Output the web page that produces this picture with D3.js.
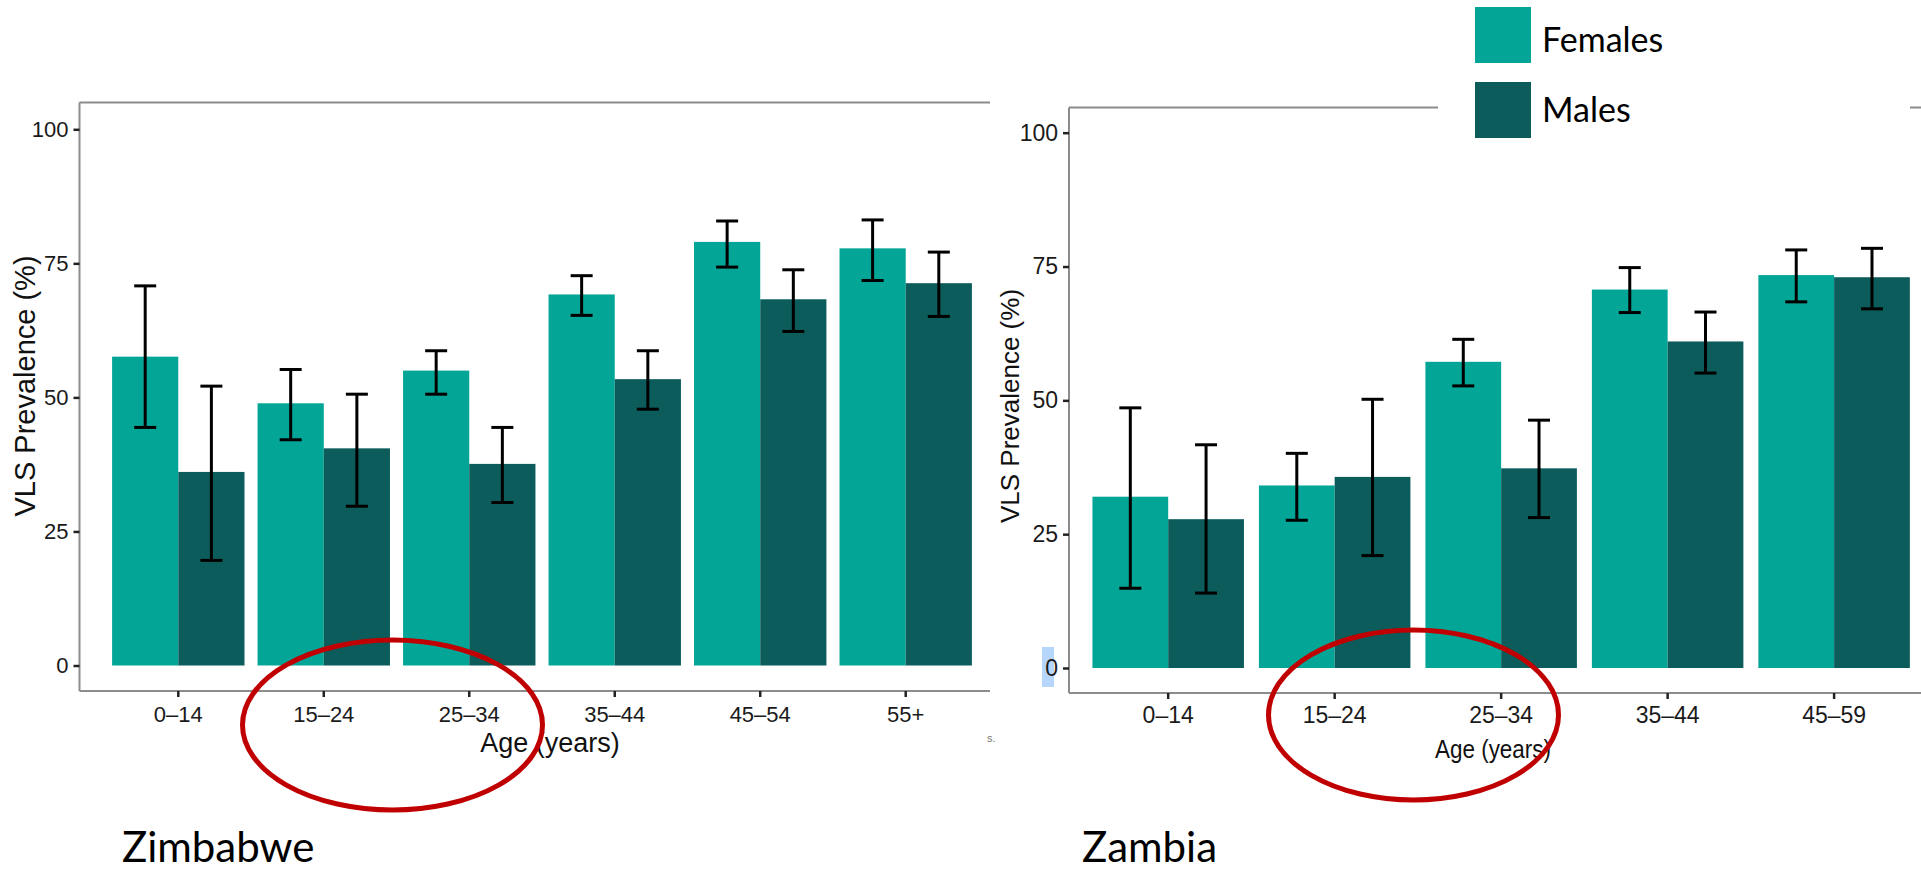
<!DOCTYPE html>
<html>
<head>
<meta charset="utf-8">
<script src="https://cdn.jsdelivr.net/npm/d3@7"></script>
<style>
  body { margin: 0; background: #fff; }
  svg { display: block; }
</style>
</head>
<body>
<svg id="chart" width="1921" height="869"></svg>
<script>
// values (VLS prevalence %, with 95% CI)
const sexes = ["Females", "Males"];
const yTicks = [0, 25, 50, 75, 100];

const zimAges = ["0–14", "15–24", "25–34", "35–44", "45–54", "55+"];
const zimFemale = [57.6, 48.9, 55.0, 69.2, 79.0, 77.8];
const zimFemaleLow = [44.4, 42.1, 50.6, 65.3, 74.3, 71.8];
const zimFemaleHigh = [70.8, 55.2, 58.7, 72.7, 82.9, 83.1];
const zimMale = [36.1, 40.5, 37.6, 53.4, 68.3, 71.3];
const zimMaleLow = [19.6, 29.7, 30.4, 47.8, 62.3, 65.1];
const zimMaleHigh = [52.1, 50.6, 44.4, 58.7, 73.8, 77.1];

const zamAges = ["0–14", "15–24", "25–34", "35–44", "45–59"];
const zamFemale = [32.0, 34.1, 57.2, 70.7, 73.4];
const zamFemaleLow = [14.9, 27.6, 52.7, 66.4, 68.4];
const zamFemaleHigh = [48.6, 40.1, 61.4, 74.8, 78.1];
const zamMale = [27.8, 35.7, 37.3, 61.0, 73.0];
const zamMaleLow = [14.0, 21.0, 28.1, 55.1, 67.1];
const zamMaleHigh = [41.7, 50.2, 46.3, 66.5, 78.4];

const color = d3.scaleOrdinal().domain(sexes).range(["#03a597", "#0c5c5b"]);
const svg = d3.select("#chart");

function drawPanel(p) {
  const g = svg.append("g");

  const x = d3.scaleBand().domain(p.ages).range(p.xRange).paddingInner(0.09).paddingOuter(0.145);
  const xs = d3.scaleBand().domain(sexes).range([0, x.bandwidth()]);
  const y = d3.scaleLinear().domain([0, 100]).range(p.yRange);

  const rows = p.ages.flatMap((age, i) => [
    { age, sex: "Females", v: p.female[i], lo: p.femaleLow[i], hi: p.femaleHigh[i] },
    { age, sex: "Males", v: p.male[i], lo: p.maleLow[i], hi: p.maleHigh[i] }
  ]);

  // panel frame (no right edge, the screenshot is cut there)
  const fr = g.append("g").attr("stroke", "#8c8c8c").attr("stroke-width", 2).attr("fill", "none");
  fr.append("line").attr("x1", p.frame.x0).attr("x2", p.frame.x1).attr("y1", p.frame.y0).attr("y2", p.frame.y0);
  fr.append("line").attr("x1", p.frame.x0).attr("x2", p.frame.x0).attr("y1", p.frame.y0).attr("y2", p.frame.y1);
  fr.append("line").attr("x1", p.frame.x0).attr("x2", p.frame.x1).attr("y1", p.frame.y1).attr("y2", p.frame.y1);

  // bars
  g.append("g").selectAll("rect")
    .data(rows)
    .enter().append("rect")
    .attr("x", d => x(d.age) + xs(d.sex))
    .attr("width", xs.bandwidth())
    .attr("y", d => y(d.v))
    .attr("height", d => y(0) - y(d.v))
    .attr("fill", d => color(d.sex));

  // error bars
  const capW = 22;
  const eb = g.append("g").attr("stroke", "#000").attr("stroke-width", 3);
  rows.forEach(d => {
    const cx = x(d.age) + xs(d.sex) + xs.bandwidth() / 2;
    eb.append("line").attr("x1", cx).attr("x2", cx).attr("y1", y(d.lo)).attr("y2", y(d.hi));
    eb.append("line").attr("x1", cx - capW / 2).attr("x2", cx + capW / 2).attr("y1", y(d.lo)).attr("y2", y(d.lo));
    eb.append("line").attr("x1", cx - capW / 2).attr("x2", cx + capW / 2).attr("y1", y(d.hi)).attr("y2", y(d.hi));
  });

  if (p.highlight) {
    g.append("rect").attr("x", p.highlight[0]).attr("y", p.highlight[1])
      .attr("width", p.highlight[2]).attr("height", p.highlight[3]).attr("fill", "#b6d6fb");
  }

  // axes
  const ya = g.append("g")
    .attr("transform", `translate(${p.frame.x0},0)`)
    .call(d3.axisLeft(y).tickValues(yTicks).tickSize(6).tickPadding(5));
  const xa = g.append("g")
    .attr("transform", `translate(0,${p.frame.y1})`)
    .call(d3.axisBottom(x).tickSize(6).tickPadding(p.xPad));
  [ya, xa].forEach(a => {
    a.select(".domain").remove();
    a.selectAll(".tick line").attr("stroke", "#222").attr("stroke-width", 2.5);
    a.selectAll(".tick text")
      .attr("fill", "#1a1a1a")
      .style("font-family", "'Liberation Sans', Arial, sans-serif")
      .style("font-size", p.tickFont + "px");
  });

  // axis titles
  g.append("text")
    .attr("transform", `translate(${p.yTitle[0]},${p.yTitle[1]}) rotate(-90)`)
    .attr("text-anchor", "middle")
    .style("font-family", "'Liberation Sans', Arial, sans-serif")
    .style("font-size", p.yTitleFont + "px")
    .attr("fill", "#111")
    .text("VLS Prevalence (%)");

  const xt = g.append("text")
    .attr("x", p.xTitle[0]).attr("y", p.xTitle[1])
    .attr("text-anchor", "middle")
    .style("font-family", "'Liberation Sans', Arial, sans-serif")
    .style("font-size", p.xTitleFont + "px")
    .attr("fill", "#111")
    .text("Age (years)");
  if (p.xTitleLen) xt.attr("textLength", p.xTitleLen).attr("lengthAdjust", "spacingAndGlyphs");

  // country caption
  svg.append("text")
    .attr("x", p.caption[0]).attr("y", p.caption[1])
    .style("font-family", "Lato, 'Open Sans', sans-serif")
    .style("font-size", "42px")
    .attr("fill", "#000")
    .text(p.name);
}

drawPanel({
  name: "Zimbabwe",
  ages: zimAges,
  female: zimFemale, femaleLow: zimFemaleLow, femaleHigh: zimFemaleHigh,
  male: zimMale, maleLow: zimMaleLow, maleHigh: zimMaleHigh,
  xRange: [91, 993],
  yRange: [665.5, 129.3],
  frame: { x0: 79.5, x1: 990, y0: 102.5, y1: 691 },
  xPad: 9,
  tickFont: 22,
  yTitle: [35, 386], yTitleFont: 29,
  xTitle: [550, 752], xTitleFont: 27,
  caption: [122, 862]
});

drawPanel({
  name: "Zambia",
  ages: zamAges,
  female: zamFemale, femaleLow: zamFemaleLow, femaleHigh: zamFemaleHigh,
  male: zamMale, maleLow: zamMaleLow, maleHigh: zamMaleHigh,
  xRange: [1068.3, 1934],
  yRange: [668, 132.7],
  frame: { x0: 1069, x1: 1921, y0: 107.5, y1: 693 },
  xPad: 8,
  tickFont: 23,
  highlight: [1042, 647, 12, 40],
  yTitle: [1019, 406], yTitleFont: 26,
  xTitle: [1493, 758], xTitleFont: 26, xTitleLen: 116,
  caption: [1082, 862]
});

// leftover fragment of the cropped source image
svg.append("text").attr("x", 987).attr("y", 742)
  .style("font-family", "'Liberation Sans', Arial, sans-serif")
  .style("font-size", "11px").attr("fill", "#777").text("s.");

// legend sits on a white box over the Zambia panel's top border
const legend = svg.append("g");
legend.append("rect").attr("x", 1438).attr("y", 0).attr("width", 472).attr("height", 150).attr("fill", "#fff");
sexes.forEach((s, i) => {
  legend.append("rect")
    .attr("x", 1475).attr("y", 7 + i * 75)
    .attr("width", 56).attr("height", 56)
    .attr("fill", color(s));
  legend.append("text")
    .attr("x", 1542).attr("y", 52 + i * 70)
    .style("font-family", "Lato, 'Open Sans', sans-serif")
    .style("font-size", "34px")
    .attr("fill", "#000")
    .text(s);
});

// red annotation ellipses
svg.append("ellipse").attr("cx", 392.5).attr("cy", 725).attr("rx", 150).attr("ry", 85)
  .attr("fill", "none").attr("stroke", "#c00000").attr("stroke-width", 5);
svg.append("ellipse").attr("cx", 1413.5).attr("cy", 715).attr("rx", 145).attr("ry", 85)
  .attr("fill", "none").attr("stroke", "#c00000").attr("stroke-width", 5);
</script>
</body>
</html>
